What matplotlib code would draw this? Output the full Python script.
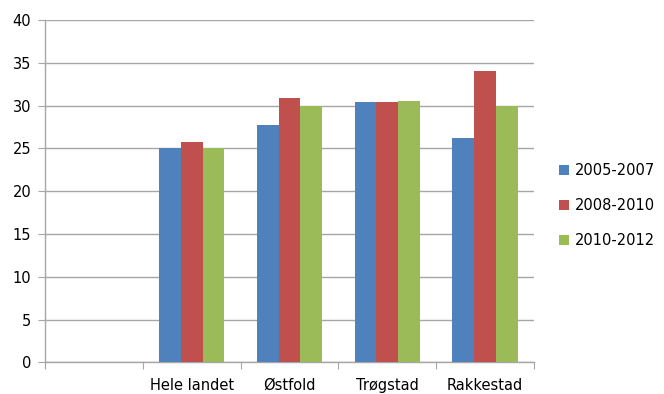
import numpy as np
import matplotlib.pyplot as plt

# Data
categories = ["", "Hele landet", "Østfold", "Trøgstad", "Rakkestad"]
series_names = ["2005-2007", "2008-2010", "2010-2012"]
v_2005_2007 = [np.nan, 25.0, 27.7, 30.4, 26.2]
v_2008_2010 = [np.nan, 25.8, 30.9, 30.4, 34.0]
v_2010_2012 = [np.nan, 25.0, 30.0, 30.6, 30.0]
y_ticks = [0, 5, 10, 15, 20, 25, 30, 35, 40]

colors = ["#4F81BD", "#C0504D", "#9BBB59"]
grid_color = "#a6a6a6"
fs = 10.5

fig = plt.figure(figsize=(6.64, 3.94), dpi=100)
ax = fig.add_axes([0.068, 0.080, 0.736, 0.869])

x = np.arange(len(categories))
width = 0.222
all_series = [v_2005_2007, v_2008_2010, v_2010_2012]
for i, (vals, name) in enumerate(zip(all_series, series_names)):
    ax.bar(x + (i - 1) * width, vals, width, color=colors[i], label=name,
           zorder=3, linewidth=0)

# Axis limits and ticks
ax.set_xlim(-0.5, len(categories) - 0.5)
ax.set_ylim(0, 40)
ax.set_yticks(y_ticks)
ax.yaxis.grid(True, color=grid_color, linewidth=1.0, zorder=0)

# tick marks at the category boundaries, labels at the centres
ax.set_xticks(np.arange(len(categories) + 1) - 0.5)
ax.set_xticklabels([])
ax.set_xticks(x, minor=True)
ax.set_xticklabels(categories, minor=True)
ax.tick_params(axis="x", which="major", length=5, color=grid_color, direction="out")
ax.tick_params(axis="x", which="minor", length=0, pad=11, labelsize=fs,
               labelcolor="#000000")
ax.tick_params(axis="y", length=5, color=grid_color, direction="out", pad=5,
               labelsize=fs)

for side in ["top", "right"]:
    ax.spines[side].set_visible(False)
for side in ["left", "bottom"]:
    ax.spines[side].set_color(grid_color)
    ax.spines[side].set_linewidth(1.0)

fig.legend(loc="center left", bbox_to_anchor=(0.822, 0.478), frameon=False,
           handlelength=0.7, handleheight=0.7, handletextpad=0.4,
           labelspacing=1.35, fontsize=fs)

plt.savefig("out.png", dpi=100)
plt.close()
